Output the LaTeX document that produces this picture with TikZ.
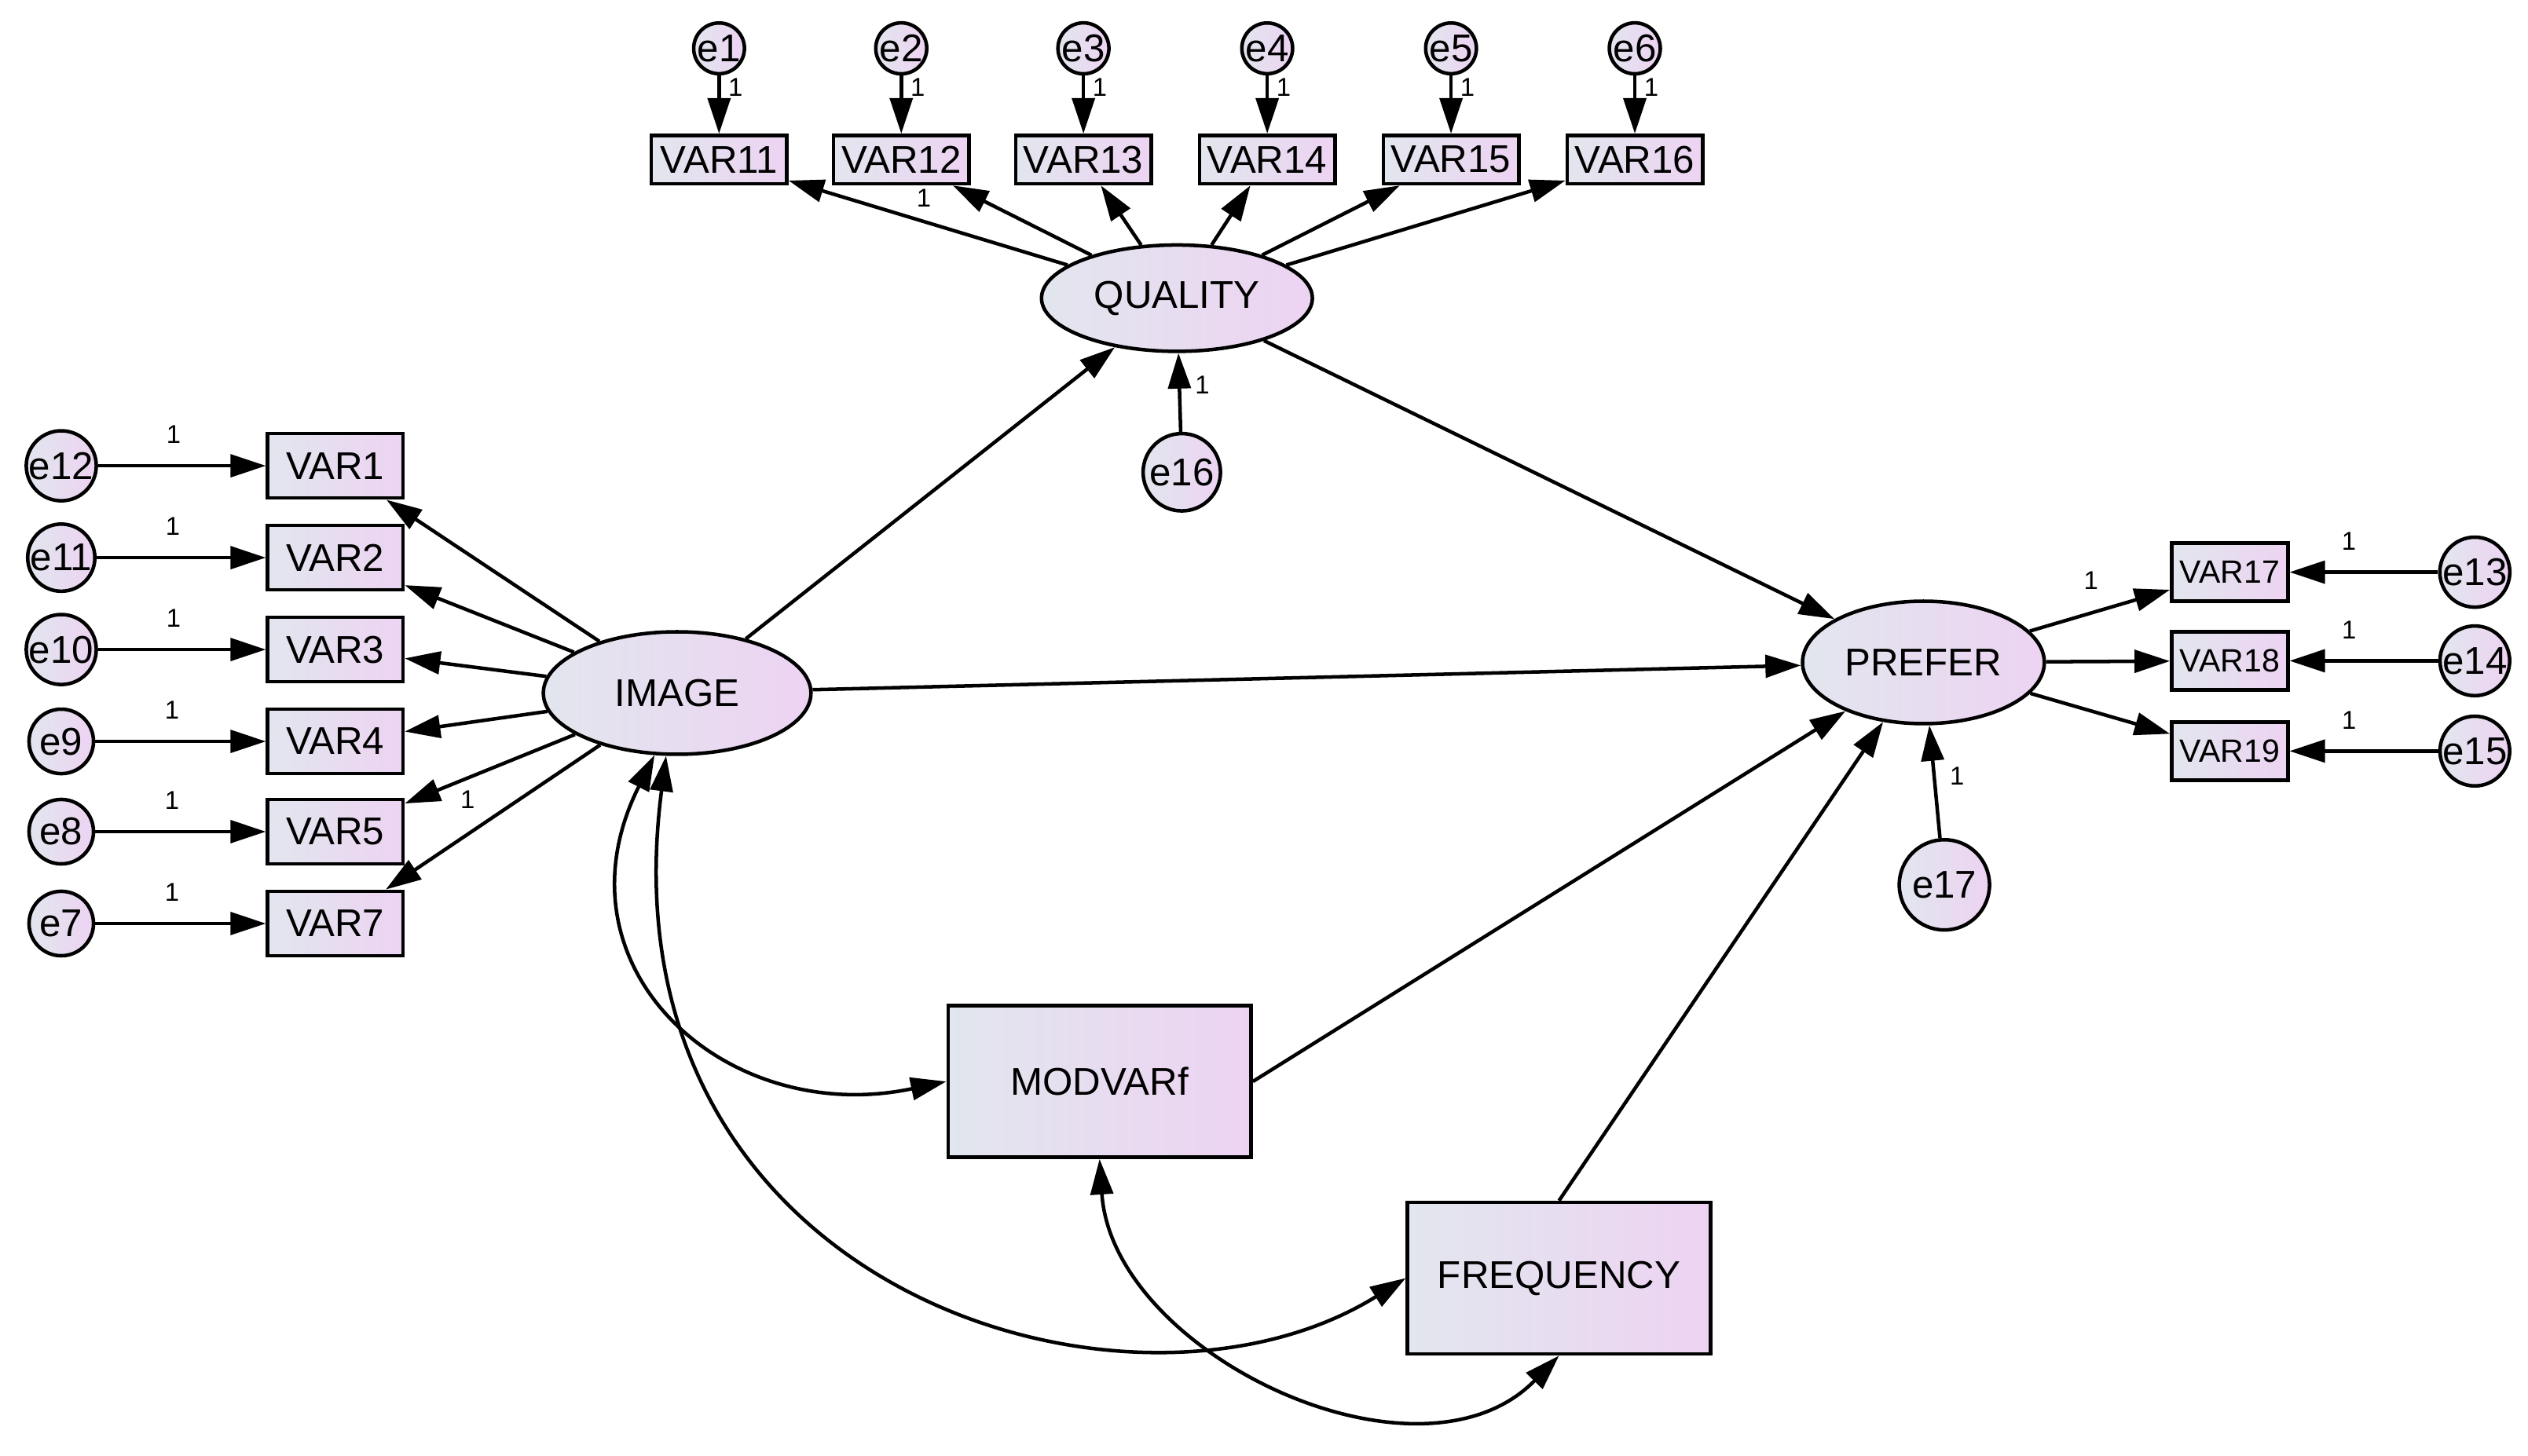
\documentclass[tikz,border=0pt]{standalone}
\usepackage{fontspec}
\setmainfont{Liberation Sans}
\usetikzlibrary{arrows.meta,shapes.geometric}
\definecolor{cL}{HTML}{E2E6EE}
\definecolor{cR}{HTML}{EDD3F2}
\begin{document}
\begin{tikzpicture}[x=0.5pt,y=-0.5pt,
  base/.style={draw=black,line width=1.1pt,left color=cL,right color=cR,inner sep=0pt},
  lat/.style={base,ellipse,minimum width=#1},
  obs/.style={base,rectangle,font=\fontsize{12}{12}\selectfont},
  err/.style={base,circle,minimum size=#1,font=\fontsize{12}{12}\selectfont},
  ar/.style={line width=1.1pt,-{Triangle[length=11pt,width=7pt]}},
  dar/.style={line width=1.1pt,{Triangle[length=11pt,width=7pt]}-{Triangle[length=11pt,width=7pt]}},
  one/.style={font=\fontsize{8}{8}\selectfont}]
\useasboundingbox (0,0) rectangle (1568,903);
% latent
\node[lat=168pt/2,minimum height=33pt] (Q) at (730,185) {\fontsize{12}{12}\selectfont QUALITY};
\node[lat=166pt/2,minimum height=38pt] (I) at (420,430) {\fontsize{12}{12}\selectfont IMAGE};
\node[lat=150pt/2,minimum height=38pt] (P) at (1193,411) {\fontsize{12}{12}\selectfont PREFER};
% top
\foreach \i/\x in {1/446,2/559,3/672,4/786,5/900,6/1014}{
  \node[err=15pt] (e\i) at (\x,30) {e\i};
}
\foreach \v/\x in {11/446,12/559,13/672,14/786,15/900,16/1014}{
  \node[obs,minimum width=42pt,minimum height=15pt] (V\v) at (\x,99) {VAR\v};
}
\foreach \i/\v in {1/11,2/12,3/13,4/14,5/15,6/16}{
  \draw[ar] (e\i) -- (V\v) node[one,pos=0.2,right=-1pt] {1};
}
\foreach \v in {11,12,13,14,15,16}{\draw[ar] (Q) -- (V\v);}
\node[one] at (573,123) {1};
% e16
\node[err=24pt] (e16) at (733,293) {e16};
\draw[ar] (e16) -- (Q) node[one,pos=0.6,right=1pt] {1};
% left
\foreach \v/\e/\y in {1/12/289,2/11/346,3/10/403,4/9/460,5/8/516,7/7/573}{
  \node[obs,minimum width=42pt,minimum height=20pt] (V\v) at (208,\y) {VAR\v};
  \node[err=20pt] (e\e) at (38,\y) {e\e};
  \draw[ar] (e\e) -- (V\v) node[one,pos=0.45,above=3pt] {1};
  \draw[ar] (I) -- (V\v);
}
\node[one] at (290,496) {1};
% right
\foreach \v/\e/\y in {17/13/355,18/14/410,19/15/466}{
  \node[obs,minimum width=36pt,minimum height=18pt,font=\fontsize{10}{10}\selectfont] (V\v) at (1383,\y) {VAR\v};
  \node[err=18pt] (e\e) at (1535,\y) {e\e};
  \draw[ar] (e\e) -- (V\v) node[one,pos=0.6,above=3pt] {1};
  \draw[ar] (P) -- (V\v);
}
\node[one] at (1297,360) {1};
\node[err=28pt] (e17) at (1206,549) {e17};
\draw[ar] (e17) -- (P) node[one,pos=0.55,right=1pt] {1};
% boxes
\node[obs,minimum width=94pt,minimum height=47pt] (M) at (682,671) {MODVARf};
\node[obs,minimum width=94pt,minimum height=47pt] (F) at (967,793) {FREQUENCY};
% paths
\draw[ar] (I) -- (Q);
\draw[ar] (Q) -- (P);
\draw[ar] (I) -- (P);
\draw[ar] (M.east) ++(0,0) -- (P);
\draw[ar] (F.north) -- (P);
% covariances
\draw[dar] (I.250) .. controls (340,600) and (450,700) .. (M.west);
\draw[dar] (I.260) .. controls (370,800) and (700,900) .. (F.west);
\draw[dar] (M.south) .. controls (690,840) and (880,930) .. (F.south);
\end{tikzpicture}
\end{document}
